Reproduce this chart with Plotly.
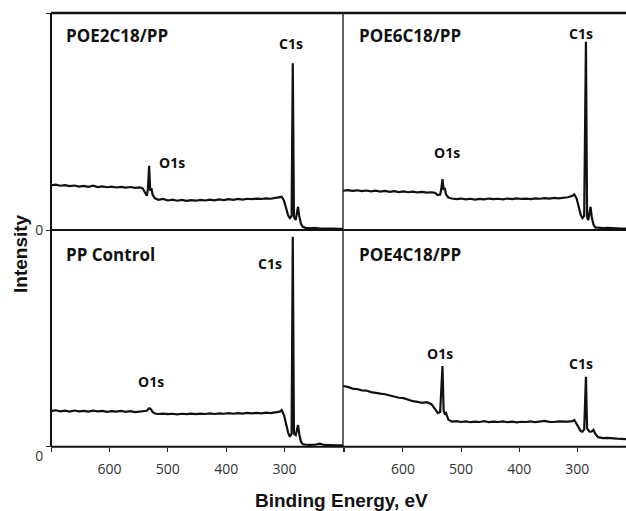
import plotly.graph_objects as go

# ---------------- data ----------------
energy_left = [700, 692, 684, 676, 668, 660, 652, 644, 636, 628,
               620, 612, 604, 596, 588, 580, 572, 564, 556, 548,
               543, 539, 536, 534, 532, 530, 528, 526, 522, 516,
               508, 500, 492, 484, 476, 468, 460, 452, 444, 436,
               428, 420, 412, 404, 396, 388, 380, 372, 364, 356,
               348, 340, 332, 324, 316, 308, 305, 301, 297, 294,
               291, 288, 286, 284, 281, 279, 277, 275, 272, 269,
               264, 256, 248, 240, 232, 224, 216, 208, 200]

energy_right = [703, 695, 687, 679, 671, 663, 655, 647, 639, 631,
                623, 615, 607, 599, 591, 583, 575, 567, 559, 551,
                545, 540, 536, 534, 532, 530, 528, 526, 522, 516,
                508, 500, 492, 484, 476, 468, 460, 452, 444, 436,
                428, 420, 412, 404, 396, 388, 380, 372, 364, 356,
                348, 340, 332, 324, 316, 308, 305, 301, 297, 294,
                291, 288, 285, 283, 281, 279, 277, 275, 272, 269,
                264, 256, 248, 240, 232, 224, 216]

poe2c18 = [20.6, 20.9, 20.4, 20.7, 20.2, 20.5, 20.0, 20.3, 19.9, 20.4,
           19.8, 20.1, 19.7, 20.0, 19.6, 19.9, 19.5, 19.8, 19.4, 19.6,
           19.2, 17.0, 15.8, 19.0, 29.6, 18.0, 19.3, 16.2, 14.6, 13.9,
           14.3, 13.6, 14.0, 13.5, 13.9, 13.4, 13.8, 13.5, 13.9, 13.6,
           14.0, 13.7, 14.1, 13.8, 14.2, 13.9, 14.3, 14.0, 14.4, 14.2,
           14.5, 14.3, 14.6, 14.4, 14.7, 14.9, 15.3, 13.5, 10.0, 6.8,
           5.5, 6.5, 76.8, 6.0, 4.6, 8.5, 10.7, 6.5, 3.0, 1.5,
           1.0, 0.8, 1.0, 0.7, 0.8, 0.6, 0.7, 0.5, 0.5]

pp_control = [16.5, 16.8, 16.3, 16.6, 16.2, 16.7, 16.3, 16.5, 16.2, 16.6,
              16.3, 16.5, 16.1, 16.4, 16.2, 16.5, 16.1, 16.4, 16.0, 16.3,
              16.2, 16.3, 16.6, 17.2, 17.7, 17.5, 17.0, 16.0, 15.3, 15.1,
              15.3, 15.0, 15.2, 14.9, 15.2, 15.0, 15.3, 15.0, 15.3, 15.1,
              15.4, 15.1, 15.4, 15.2, 15.5, 15.2, 15.5, 15.3, 15.6, 15.4,
              15.6, 15.4, 15.7, 15.5, 15.8, 16.2, 16.9, 14.5, 10.0, 6.5,
              4.6, 6.0, 96.9, 6.0, 5.4, 8.0, 10.0, 6.0, 2.3, 1.2,
              0.9, 0.8, 0.9, 1.4, 0.8, 0.7, 0.8, 0.6, 0.6]

poe6c18 = [18.1, 18.4, 18.0, 18.3, 17.9, 18.2, 17.8, 18.1, 17.7, 18.0,
           17.6, 17.9, 17.5, 17.8, 17.4, 17.7, 17.3, 17.6, 17.2, 17.4,
           17.1, 16.1, 16.3, 19.0, 23.5, 18.5, 19.4, 16.5, 15.0, 14.5,
           14.2, 14.5, 14.1, 14.4, 14.0, 14.3, 14.1, 14.5, 14.2, 14.4,
           14.1, 14.5, 14.2, 14.6, 14.3, 14.5, 14.2, 14.6, 14.4, 14.7,
           14.5, 14.8, 14.6, 14.9, 15.1, 15.8, 16.4, 14.5, 10.5, 7.0,
           5.5, 6.5, 86.8, 6.0, 4.6, 8.5, 10.7, 6.0, 2.5, 1.2,
           1.0, 0.9, 1.0, 0.8, 0.8, 0.7, 0.6]

poe4c18 = [28.0, 27.6, 26.8, 26.6, 26.0, 25.9, 25.2, 25.0, 24.5, 24.2,
           23.6, 23.1, 22.6, 22.4, 21.6, 21.0, 20.7, 20.2, 20.6, 19.6,
           17.5, 15.5, 16.0, 25.0, 37.2, 16.5, 15.2, 15.6, 12.5, 11.6,
           11.8, 11.4, 11.7, 11.3, 11.6, 11.4, 11.8, 11.3, 11.6, 11.4,
           11.7, 11.3, 11.6, 11.2, 11.5, 11.4, 11.7, 11.3, 11.6, 11.9,
           11.5, 11.4, 11.7, 11.5, 11.6, 11.8, 12.3, 10.5, 8.5, 7.2,
           6.9, 8.0, 32.3, 8.5, 7.7, 7.0, 6.9, 7.0, 7.8, 6.0,
           4.4, 4.0, 4.1, 3.8, 3.7, 3.6, 3.5]

panel_names = ["POE2C18/PP", "POE6C18/PP", "PP Control", "POE4C18/PP"]
x_ticks = [700, 600, 500, 400, 300, 200]
x_tick_text = ["", "600", "500", "400", "300", ""]

# peak labels: (panel index, text, energy, intensity)
peak_labels = [
    (1, "C1s", 289, 86.0), (1, "O1s", 493, 31.0),
    (2, "C1s", 294, 90.5), (2, "O1s", 524, 35.5),
    (3, "C1s", 325, 84.5), (3, "O1s", 529, 30.0),
    (4, "O1s", 536, 43.0), (4, "C1s", 294, 38.5),
]

# ---------------- figure ----------------
W, H = 626, 511
xl = [51 / W, 343 / W]
xr = [343 / W, 1.0]
yt = [1 - 230 / H, 1 - 13 / H]
yb = [1 - 446.7 / H, 1 - 230 / H]

fig = go.Figure()
series = [(energy_left, poe2c18, "x", "y"),
          (energy_right, poe6c18, "x2", "y2"),
          (energy_left, pp_control, "x3", "y3"),
          (energy_right, poe4c18, "x4", "y4")]
for ex, vals, xa, ya in series:
    fig.add_trace(go.Scatter(x=ex, y=vals, mode="lines", xaxis=xa, yaxis=ya,
                             line=dict(color="#111111", width=2.2),
                             showlegend=False, hoverinfo="skip"))

tick_font = dict(family="Open Sans", size=14, color="#333333")

def xax(domain, rng, anchor, bottom):
    d = dict(domain=domain, range=rng, anchor=anchor, showgrid=False,
             zeroline=False, showline=False, fixedrange=True, automargin=False)
    if bottom:
        d.update(tickmode="array", tickvals=x_ticks, ticktext=x_tick_text,
                 ticks="outside", ticklen=4, tickwidth=1, tickcolor="#222",
                 tickfont=tick_font, showticklabels=True, ticklabelstandoff=5)
    else:
        d.update(showticklabels=False, ticks="")
    return d

def yax(domain, anchor, left, tv, shift=0):
    d = dict(domain=domain, range=[0, 100], anchor=anchor, showgrid=False,
             zeroline=False, showline=False, fixedrange=True, automargin=False)
    if left:
        d.update(tickmode="array", tickvals=tv, ticktext=["0"] + [""] * (len(tv) - 1),
                 ticks="outside", ticklen=4, tickwidth=1, tickcolor="#222",
                 tickfont=tick_font, showticklabels=True, ticklabelshift=shift)
    else:
        d.update(showticklabels=False, ticks="")
    return d

fig.update_layout(
    width=W, height=H, autosize=False,
    margin=dict(l=0, r=0, t=0, b=0, pad=0),
    paper_bgcolor="white", plot_bgcolor="white",
    xaxis=xax(xl, [700, 200], "y", False),
    yaxis=yax(yt, "x", True, [0, 100]),
    xaxis2=xax(xr, [703.3, 216], "y2", False),
    yaxis2=yax(yt, "x2", False, [0]),
    xaxis3=xax(xl, [700, 200], "y3", True),
    yaxis3=yax(yb, "x3", True, [0], shift=9),
    xaxis4=xax(xr, [703.3, 216], "y4", True),
    yaxis4=yax(yb, "x4", False, [0]),
)

# frame lines
line_k = dict(color="#111111")
fig.add_shape(type="line", xref="paper", yref="paper", x0=xl[0], x1=1, y0=yt[1], y1=yt[1],
              line=dict(width=2.5, **line_k))
fig.add_shape(type="line", xref="paper", yref="paper", x0=xl[0], x1=1, y0=yt[0], y1=yt[0],
              line=dict(width=2, **line_k))
fig.add_shape(type="line", xref="paper", yref="paper", x0=xl[0], x1=1, y0=yb[0], y1=yb[0],
              line=dict(width=2, **line_k))
fig.add_shape(type="line", xref="paper", yref="paper", x0=xl[0], x1=xl[0], y0=yb[0], y1=yt[1],
              line=dict(width=2, **line_k))
fig.add_shape(type="line", xref="paper", yref="paper", x0=xl[1], x1=xl[1], y0=yb[0], y1=yt[1],
              line=dict(width=1.3, **line_k))

# panel names
name_pos = [("x", "y", 678, 89.8), ("x2", "y2", 680, 89.8),
            ("x3", "y3", 678, 88.5), ("x4", "y4", 680, 88.5)]
for name, (xa, ya, ex, ey) in zip(panel_names, name_pos):
    fig.add_annotation(x=ex, y=ey, xref=xa, yref=ya, text="<b>" + name + "</b>",
                       showarrow=False, xanchor="left", yanchor="middle",
                       font=dict(family="Open Sans", size=17, color="#111"))

for idx, txt, ex, ey in peak_labels:
    sfx = "" if idx == 1 else str(idx)
    fig.add_annotation(x=ex, y=ey, xref="x" + sfx, yref="y" + sfx, text="<b>" + txt + "</b>",
                       showarrow=False, xanchor="center", yanchor="middle",
                       font=dict(family="Open Sans", size=14, color="#111"))

# axis titles
fig.add_annotation(x=20 / W, y=1 - 254 / H, xref="paper", yref="paper",
                   text="<b>Intensity</b>", textangle=-90, showarrow=False,
                   xanchor="center", yanchor="middle",
                   font=dict(family="Liberation Sans", size=19, color="#111"))
fig.add_annotation(x=341 / W, y=1 - 500 / H, xref="paper", yref="paper",
                   text="<b>Binding Energy, eV</b>", showarrow=False,
                   xanchor="center", yanchor="middle",
                   font=dict(family="Liberation Sans", size=19, color="#111"))

fig.write_html(
    "out.html",
    config={"responsive": False, "displayModeBar": False},
    post_script="document.body.style.margin='0';document.body.style.overflow='hidden';",
)
